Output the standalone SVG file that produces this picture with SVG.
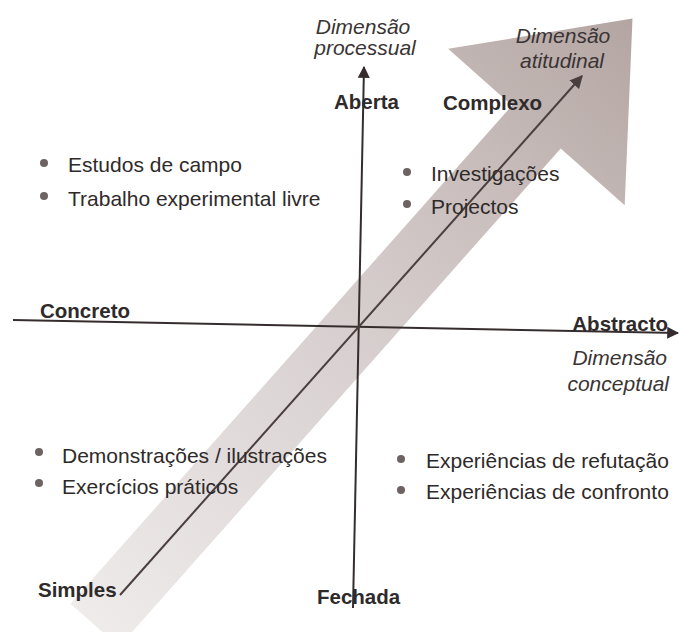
<svg xmlns="http://www.w3.org/2000/svg" width="683" height="632" viewBox="0 0 683 632">
<defs>
<style>
.t{font-family:"Liberation Sans",Arial,sans-serif;font-size:21px;fill:#2f2a2a}
.b{font-family:"Liberation Sans",Arial,sans-serif;font-size:20.5px;font-weight:bold;fill:#2f2a2a}
.i{font-family:"Liberation Sans",Arial,sans-serif;font-size:21px;font-style:italic;fill:#3a3434}
.dot{fill:#6d6363}
.ax{stroke:#352d2d;stroke-width:2;fill:none}
</style>
<linearGradient id="g" gradientUnits="userSpaceOnUse" x1="95" y1="625" x2="632" y2="19">
<stop offset="0" stop-color="#efebeb"/>
<stop offset="0.45" stop-color="#d9d1d1"/>
<stop offset="0.75" stop-color="#c7bcba"/>
<stop offset="1" stop-color="#b3a5a2"/>
</linearGradient>
<marker id="ah" viewBox="0 0 10 10" refX="9" refY="5" markerWidth="6" markerHeight="6" markerUnits="strokeWidth" orient="auto">
<path d="M0,0 L10,5 L0,10 z" fill="#352d2d"/>
</marker>
<marker id="ah2" viewBox="0 0 10 10" refX="9" refY="5" markerWidth="6.5" markerHeight="6.5" markerUnits="strokeWidth" orient="auto">
<path d="M0,0 L10,5 L0,10 z" fill="#4a3e3e"/>
</marker>
</defs>
<rect width="683" height="632" fill="#ffffff"/>
<g id="big-arrow">
<polygon points="70.5,603.7 512.1,105.5 448.1,48.8 632.5,18.6 624.7,205.2 560.7,148.5 119.1,646.7" fill="url(#g)"/>
</g>
<g id="connectors">
<line class="ax" x1="13" y1="320" x2="678" y2="333" marker-end="url(#ah)"/>
<line class="ax" x1="353" y1="608" x2="364" y2="67" marker-end="url(#ah)"/>
<line x1="120" y1="595" x2="582" y2="76" stroke="#4a3e3e" stroke-width="2" marker-end="url(#ah2)"/>
</g>
<g id="axis-processual">
<text class="i" x="363" y="34" text-anchor="middle">Dimensão</text>
<text class="i" x="365" y="55" text-anchor="middle">processual</text>
</g>
<g id="axis-atitudinal">
<text class="i" x="563" y="43" text-anchor="middle">Dimensão</text>
<text class="i" x="562" y="68" text-anchor="middle">atitudinal</text>
</g>
<g id="axis-conceptual">
<text class="i" x="667" y="365" text-anchor="end">Dimensão</text>
<text class="i" x="669" y="391" text-anchor="end">conceptual</text>
</g>
<g id="label-aberta"><text class="b" x="334" y="109">Aberta</text></g>
<g id="label-complexo"><text class="b" x="443" y="110">Complexo</text></g>
<g id="label-concreto"><text class="b" x="40" y="318">Concreto</text></g>
<g id="label-abstracto"><text class="b" x="668" y="331" text-anchor="end">Abstracto</text></g>
<g id="label-simples"><text class="b" x="38" y="597">Simples</text></g>
<g id="label-fechada"><text class="b" x="317" y="604">Fechada</text></g>
<g id="list-top-left">
<circle class="dot" cx="44" cy="163" r="4"/>
<text class="t" x="68" y="172">Estudos de campo</text>
<circle class="dot" cx="44" cy="196" r="4"/>
<text class="t" x="68" y="206">Trabalho experimental livre</text>
</g>
<g id="list-top-right">
<circle class="dot" cx="407" cy="172" r="4"/>
<text class="t" x="431" y="181">Investigações</text>
<circle class="dot" cx="407" cy="204" r="4"/>
<text class="t" x="431" y="214">Projectos</text>
</g>
<g id="list-bottom-left">
<circle class="dot" cx="39" cy="452" r="4"/>
<text class="t" x="62" y="463">Demonstrações / ilustrações</text>
<circle class="dot" cx="39" cy="483" r="4"/>
<text class="t" x="62" y="494">Exercícios práticos</text>
</g>
<g id="list-bottom-right">
<circle class="dot" cx="401" cy="459" r="4"/>
<text class="t" x="426" y="468">Experiências de refutação</text>
<circle class="dot" cx="401" cy="490" r="4"/>
<text class="t" x="426" y="499">Experiências de confronto</text>
</g>
</svg>
